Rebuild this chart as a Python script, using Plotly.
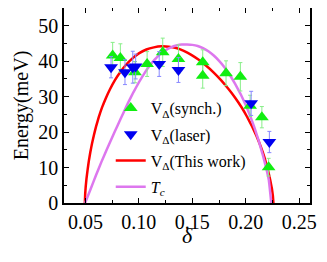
import plotly.graph_objects as go

# --- data ---
synch_x = [0.0755, 0.0827, 0.0964, 0.1077, 0.1223, 0.137, 0.1597, 0.1597, 0.1815, 0.1949, 0.204, 0.215, 0.2213]
synch_y = [41.6, 40.9, 36.9, 39.2, 42.5, 40.6, 39.7, 35.9, 36.6, 35.6, 27.4, 24.2, 10.1]
synch_err = [3.7, 4.0, 3.0, 3.5, 4.0, 4.0, 3.5, 3.5, 3.5, 4.0, 3.0, 3.0, 2.5]

laser_x = [0.074, 0.087, 0.0943, 0.097, 0.119, 0.137, 0.205, 0.222]
laser_y = [38.3, 36.9, 38.3, 38.5, 39.2, 37.5, 28.1, 17.2]
laser_err = [3.0, 3.5, 4.5, 3.5, 3.5, 3.5, 3.4, 3.0]

work_x = [0.0495, 0.0498, 0.0503, 0.0510, 0.0520, 0.0532, 0.0546, 0.0562, 0.0580, 0.0600,
          0.0625, 0.0655, 0.0690, 0.0730, 0.0775, 0.0825, 0.0880, 0.0940, 0.1000, 0.1070,
          0.1140, 0.1210, 0.1280, 0.1350, 0.1420, 0.1490, 0.1560, 0.1630, 0.1700, 0.1770,
          0.1840, 0.1900, 0.1960, 0.2010, 0.2060, 0.2100, 0.2140, 0.2175, 0.2205, 0.2228,
          0.2244, 0.2253, 0.2258]
work_y = [0.0, 2.5, 4.6, 6.8, 9.2, 11.8, 14.3, 16.8, 19.2, 21.6,
          24.2, 26.9, 29.5, 32.1, 34.6, 36.9, 39.0, 40.8, 42.2, 43.3,
          43.9, 44.2, 44.1, 43.7, 42.9, 41.8, 40.4, 38.7, 36.8, 34.6,
          32.1, 29.7, 27.0, 24.4, 21.5, 18.9, 15.9, 12.8, 9.5, 6.5,
          4.0, 2.0, 0.0]

tc_x = [0.0497, 0.0550, 0.0600, 0.0650, 0.0700, 0.0750, 0.0800, 0.0855, 0.0900, 0.0950,
        0.1000, 0.1050, 0.1100, 0.1150, 0.1200, 0.1250, 0.1300, 0.1350, 0.1400, 0.1450,
        0.1500, 0.1550, 0.1600, 0.1650, 0.1700, 0.1750, 0.1800, 0.1850, 0.1900, 0.1950,
        0.2000, 0.2040, 0.2080, 0.2120, 0.2160, 0.2190, 0.2215, 0.2238]
tc_y = [0.0, 4.0, 7.9, 11.6, 15.1, 18.5, 21.8, 25.4, 28.3, 31.3,
        34.0, 36.5, 38.7, 40.5, 42.0, 43.1, 43.9, 44.4, 44.7, 44.7,
        44.6, 44.3, 43.7, 42.8, 41.6, 40.1, 38.3, 36.1, 33.6, 30.8,
        27.6, 24.6, 21.3, 17.6, 13.4, 9.9, 6.5, 0.0]

x_ticks = [0.05, 0.10, 0.15, 0.20, 0.25]
x_ticklabels = ["0.05", "0.10", "0.15", "0.20", "0.25"]
y_ticks = [0, 10, 20, 30, 40, 50]

FONT = "Liberation Serif"

fig = go.Figure()
fig.add_trace(go.Scatter(
    x=work_x, y=work_y, mode="lines", name="V<sub>Δ</sub>(This work)",
    line=dict(color="#ff0000", width=2.5, shape="spline", smoothing=0.3),
    legendrank=3, legendgroup="c"))
fig.add_trace(go.Scatter(
    x=tc_x, y=tc_y, mode="lines", name="<i>T<sub>c</sub></i>",
    line=dict(color="#dd77ee", width=2.5, shape="spline", smoothing=0.3),
    legendrank=4, legendgroup="d"))
fig.add_trace(go.Scatter(
    x=synch_x, y=synch_y, mode="markers", name="V<sub>Δ</sub>(synch.)",
    marker=dict(symbol="triangle-up", size=12, color="#11ee11"),
    error_y=dict(type="data", array=synch_err, color="#88ee88", thickness=1, width=2),
    legendrank=1, legendgroup="a"))
fig.add_trace(go.Scatter(
    x=laser_x, y=laser_y, mode="markers", name="V<sub>Δ</sub>(laser)",
    marker=dict(symbol="triangle-down", size=12, color="#0000f0"),
    error_y=dict(type="data", array=laser_err, color="#8888ff", thickness=1, width=2),
    legendrank=2, legendgroup="b"))

axis_common = dict(
    showline=True, linecolor="black", linewidth=1.5, mirror="ticks",
    ticks="inside", ticklen=5, tickwidth=1.2, tickcolor="black",
    showgrid=False, zeroline=False, automargin=False,
    tickfont=dict(family=FONT, size=20, color="black"),
)

fig.update_xaxes(
    range=[0.03, 0.26], tickvals=x_ticks, ticktext=x_ticklabels,
    minor=dict(dtick=0.025, tick0=0.025, ticks="inside", ticklen=3, tickcolor="black", showgrid=False),
    **axis_common)
fig.update_yaxes(
    range=[0, 55], tickvals=y_ticks,
    minor=dict(dtick=5, tick0=0, ticks="inside", ticklen=3, tickcolor="black", showgrid=False),
    title=dict(text="Energy(meV)", font=dict(family=FONT, size=20, color="black"), standoff=4),
    **axis_common)

fig.add_annotation(
    text="<i>δ</i>", xref="paper", yref="paper", x=0.5, y=-0.165,
    xanchor="center", yanchor="middle", showarrow=False,
    font=dict(family=FONT, size=22, color="black"))

fig.update_layout(
    width=319, height=254,
    margin=dict(l=56, r=17, t=0, b=59),
    paper_bgcolor="white", plot_bgcolor="white",
    showlegend=True,
    legend=dict(x=0.19, y=0.574, xanchor="left", yanchor="top",
                bgcolor="rgba(0,0,0,0)", borderwidth=0,
                font=dict(family=FONT, size=16, color="black"),
                itemwidth=30, tracegroupgap=2.5, traceorder="grouped"),
    font=dict(family=FONT, color="black"),
)

fig.write_html("out.html")
